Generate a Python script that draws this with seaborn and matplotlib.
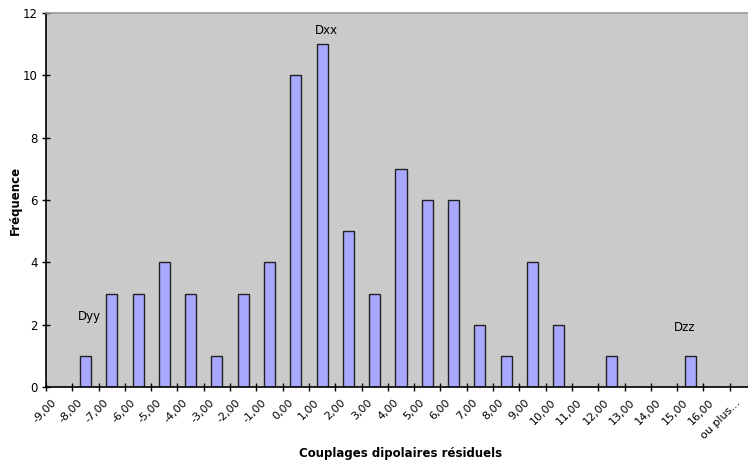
import matplotlib
matplotlib.use("Agg")
import matplotlib.pyplot as plt
import matplotlib.transforms as mtransforms
import seaborn as sns
import pandas as pd

# Histogram bins (class labels) and counts per bin
categories = ["-9,00", "-8,00", "-7,00", "-6,00", "-5,00", "-4,00", "-3,00",
              "-2,00", "-1,00", "0,00", "1,00", "2,00", "3,00", "4,00",
              "5,00", "6,00", "7,00", "8,00", "9,00", "10,00", "11,00",
              "12,00", "13,00", "14,00", "15,00", "16,00", "ou plus..."]
counts = [0, 1, 3, 3, 4, 3, 1, 3, 4, 10, 11, 5, 3, 7, 6, 6, 2, 1, 4, 2, 0,
          1, 0, 0, 1, 0, 0]

# Annotated tensor components: text, x (bin position), y (frequency)
note_text = ["Dyy", "Dxx", "Dzz"]
note_x = [1.17, 10.18, 23.8]
note_y = [2.25, 11.45, 1.92]

y_ticks = [0, 2, 4, 6, 8, 10, 12]

df = pd.DataFrame({"classe": categories, "frequence": counts})

sns.set_theme(style="white")
plt.rcParams["font.family"] = ["DejaVu Sans"]
plt.rcParams["text.color"] = "black"
plt.rcParams["xtick.color"] = "black"
plt.rcParams["ytick.color"] = "black"

fig = plt.figure(figsize=(7.48, 4.61), dpi=100)
ax = fig.add_axes([46 / 748, 74 / 461, 710 / 748, 374 / 461])
ax.set_facecolor("#cacaca")

sns.barplot(data=df, x="classe", y="frequence", order=categories,
            color="#a8a8ff", saturation=1, width=0.42,
            edgecolor="#222222", linewidth=1.0, ax=ax)

n = len(categories)
ax.set_xlim(-0.5, n - 0.5)
ax.set_ylim(0, 12)
ax.set_yticks(y_ticks)
ax.set_yticklabels([str(v) for v in y_ticks], fontsize=8.5)

# Category labels centered in each bin, tick marks on bin boundaries
ax.set_xticks(range(n))
ax.set_xticklabels(categories, rotation=45, ha="right",
                   rotation_mode="anchor", fontsize=8)
ax.set_xticks([i - 0.5 for i in range(n + 1)], minor=True)
ax.tick_params(axis="x", which="major", length=0, pad=6)
ax.tick_params(axis="x", which="minor", length=6, width=1,
               direction="inout", color="black", bottom=True)
ax.tick_params(axis="y", which="major", length=6, width=1,
               direction="inout", color="black", left=True, pad=3)

for side in ("left", "bottom"):
    ax.spines[side].set_color("black")
    ax.spines[side].set_linewidth(1.2)
ax.spines["top"].set_color("#999999")
ax.spines["top"].set_linewidth(1.2)
ax.spines["right"].set_visible(False)

for t, x, y in zip(note_text, note_x, note_y):
    ax.text(x, y, t, ha="center", va="center", fontsize=8.5)

ax.set_xlabel("")
ax.set_ylabel("")
fig.text(401 / 748, 1 - 453 / 461, "Couplages dipolaires résiduels",
         ha="center", va="center", fontsize=8.5, fontweight="bold")
fig.text(15 / 748, 1 - 200 / 461, "Fréquence", ha="center", va="center",
         rotation=90, fontsize=8.5, fontweight="bold")

# Nudge the rotated category labels so their ends sit just left of bin centres
shift = mtransforms.ScaledTranslation(-8 / 100, -2 / 100, fig.dpi_scale_trans)
for lab in ax.get_xticklabels():
    lab.set_transform(lab.get_transform() + shift)

fig.savefig("out.png", dpi=100)
